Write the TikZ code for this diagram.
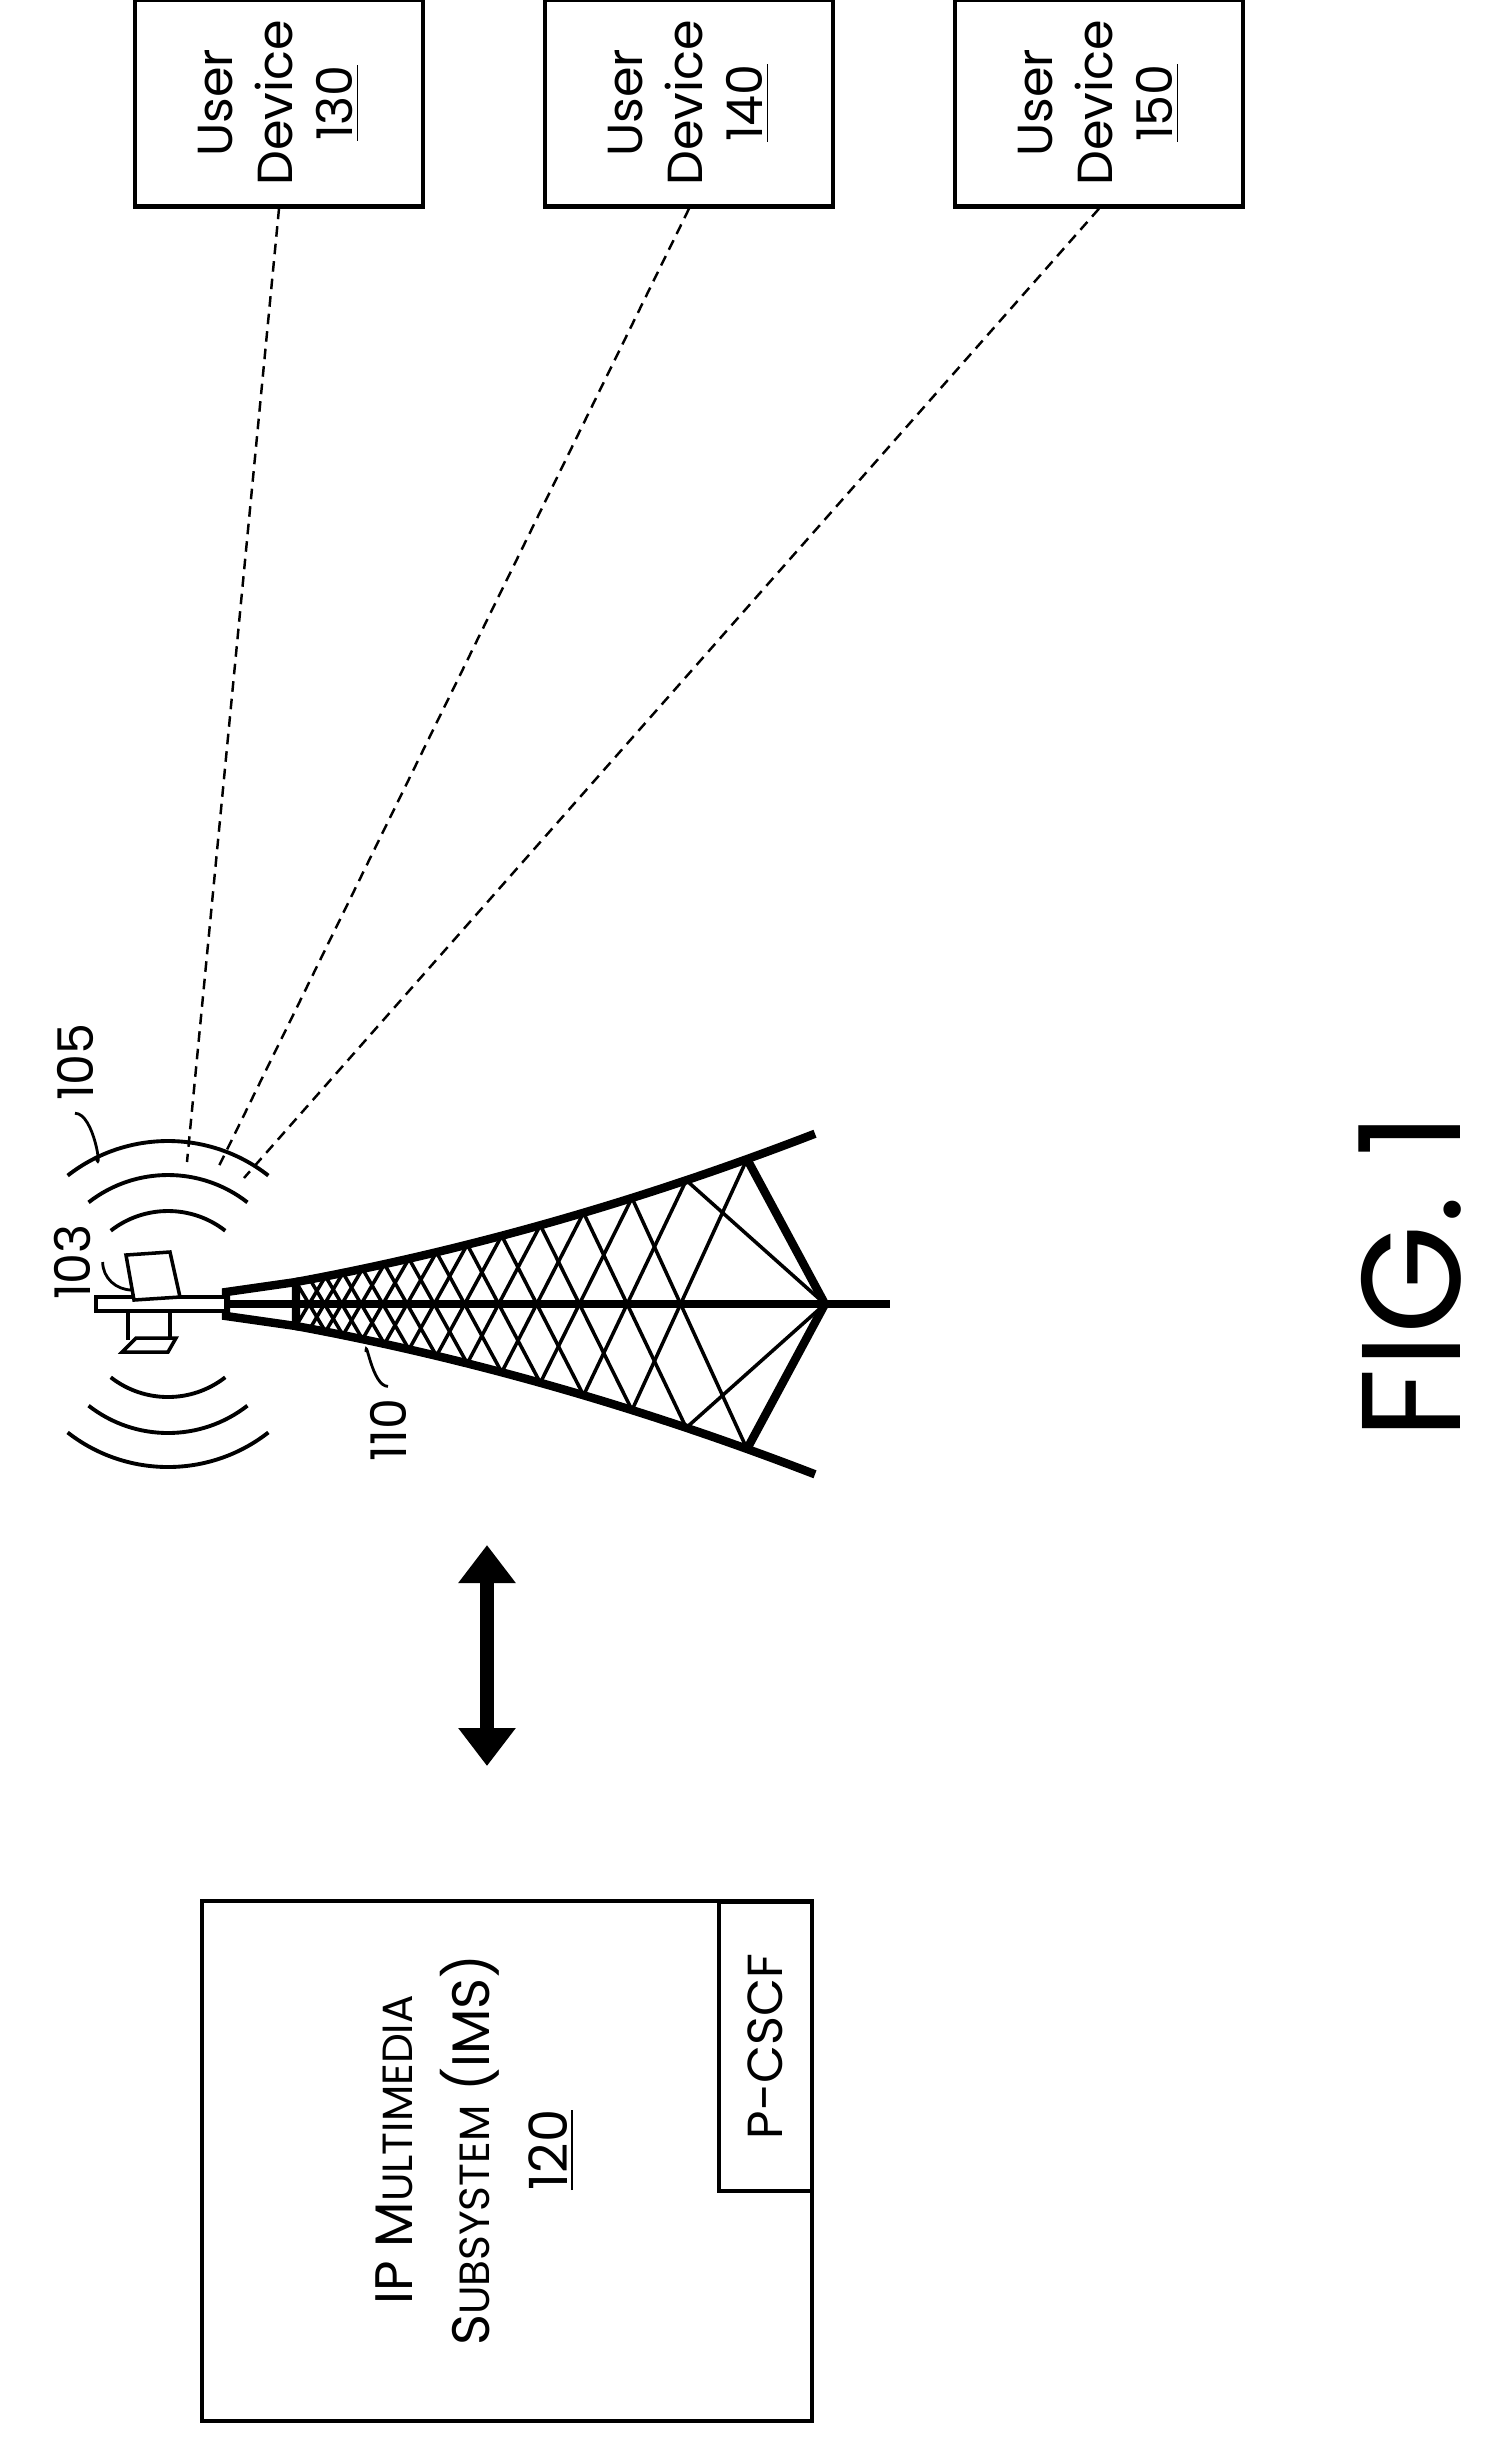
\documentclass[tikz,border=0pt]{standalone}
\usepackage{fontspec}
\setmainfont{Poppins}
\usetikzlibrary{arrows.meta}

\tikzset{
  box/.style={draw, line width=1.2pt, rotate=90, align=center, inner sep=2pt},
  link/.style={dashed, line width=0.7pt, dash pattern=on 3pt off 2pt},
  leg/.style={line width=2.4pt},
  lace/.style={line width=1pt},
  wave/.style={line width=1.1pt},
  lead/.style={line width=0.8pt},
  txt/.style={font=\fontsize{14}{17}\selectfont}
}
\newcommand{\devtxt}[1]{User\\Device\\\underline{#1}}

\begin{document}
\begin{tikzpicture}[x=0.01cm, y=-0.01cm,
    declare function={hw(\t)=22+0.185*(\t-296)+(0.01393*(\t-296))^2;}]
  \useasboundingbox (0,0) rectangle (1494,2456);

  % user devices
  \node[box, txt, minimum width=2.07cm, minimum height=2.88cm] (dev130) at (279,103) {\devtxt{130}};
  \node[box, txt, minimum width=2.07cm, minimum height=2.88cm] (dev140) at (689,103) {\devtxt{140}};
  \node[box, txt, minimum width=2.07cm, minimum height=2.88cm] (dev150) at (1099,103) {\devtxt{150}};

  % IMS
  \node[box, minimum width=5.19cm, minimum height=6.10cm] (ims) at (507,2161) {};
  \node[rotate=90, align=center, font=\fontsize{15}{22}\selectfont] (imstxt) at (475,2150)
    {IP M{\fontsize{12}{22}\selectfont ULTIMEDIA}\\
     S{\fontsize{12}{22}\selectfont UBSYSTEM} (IMS)\\
     \underline{120}};
  \node[box, txt, minimum width=2.89cm, minimum height=0.93cm] (pcscf) at (765.5,2046.5) {P-CSCF};

  % double arrow
  \coordinate (up) at (487,1545);
  \coordinate (dn) at (487,1766);
  \draw[line width=0.14cm, {Triangle[width=0.55cm,length=0.38cm]}-{Triangle[width=0.55cm,length=0.38cm]}] (up) -- (dn);

  % tower
  \coordinate (apex) at (825,1304);
  \draw[leg] (226,1304) -- (890,1304);
  \draw[leg] plot[domain=296:815, samples=40] (\x, {1304-hw(\x)});
  \draw[leg] plot[domain=296:815, samples=40] (\x, {1304+hw(\x)});
  \draw[leg] (747,1159) -- (apex) -- (747,1449);
  \draw[leg] (226,1292) -- (296,1282) -- (296,1326) -- (226,1316) -- cycle;
  \foreach \k in {0,...,12} {
    \pgfmathsetmacro{\xa}{296+451*(1.12^\k-1)/(1.12^14-1)}
    \pgfmathsetmacro{\xb}{296+451*(1.12^(\k+2)-1)/(1.12^14-1)}
    \pgfmathsetmacro{\ha}{hw(\xa)}
    \pgfmathsetmacro{\hb}{hw(\xb)}
    \draw[lace] (\xa,1304-\ha) -- (\xb,1304+\hb);
    \draw[lace] (\xa,1304+\ha) -- (\xb,1304-\hb);
  }
  \pgfmathsetmacro{\xa}{296+451*(1.12^13-1)/(1.12^14-1)}
  \pgfmathsetmacro{\ha}{hw(\xa)}
  \draw[lace] (\xa,1304-\ha) -- (apex) -- (\xa,1304+\ha);

  % antenna
  \draw[lace, fill=white] (96,1297) rectangle (226,1311);
  \draw[lace, fill=white] (126,1255) -- (170,1252) -- (180,1297) -- (134,1300) -- cycle;
  \draw[lace] (128,1311) -- (128,1340) (170,1311) -- (170,1338);
  \draw[lace] (122,1352) -- (168,1352) -- (176,1338) -- (136,1338) -- cycle;
  \coordinate (ant) at (168,1304);

  % radio waves
  \foreach \r in {93,129,163} {
    \draw[wave] (ant) ++(232:\r) arc (232:308:\r);
    \draw[wave] (ant) ++(52:\r) arc (52:128:\r);
  }

  % links to devices
  \coordinate (t1) at (187,1162);
  \coordinate (t2) at (218,1168);
  \coordinate (t3) at (244,1178);
  \draw[link] (dev130.west) -- (t1);
  \draw[link] (dev140.west) -- (t2);
  \draw[link] (dev150.west) -- (t3);

  % reference labels
  \node[rotate=90, txt] (l103) at (72,1262) {103};
  \node[rotate=90, txt] (l105) at (75,1062) {105};
  \node[rotate=90, txt] (l110) at (388,1430) {110};
  \coordinate (p103) at (132,1290);
  \coordinate (p105) at (96,1158);
  \coordinate (p110) at (366,1352);
  \draw[lead] (l103.south) to[out=-90, in=180] (p103);
  \draw[lead] (l105.west) to[out=0, in=-70] (p105);
  \draw[lead] (l110.east) to[out=180, in=90] (p110);

  % figure label
  \node[rotate=90, font=\fontsize{40}{44}\selectfont] (fig) at (1410,1276) {FIG. 1};
\end{tikzpicture}
\end{document}
